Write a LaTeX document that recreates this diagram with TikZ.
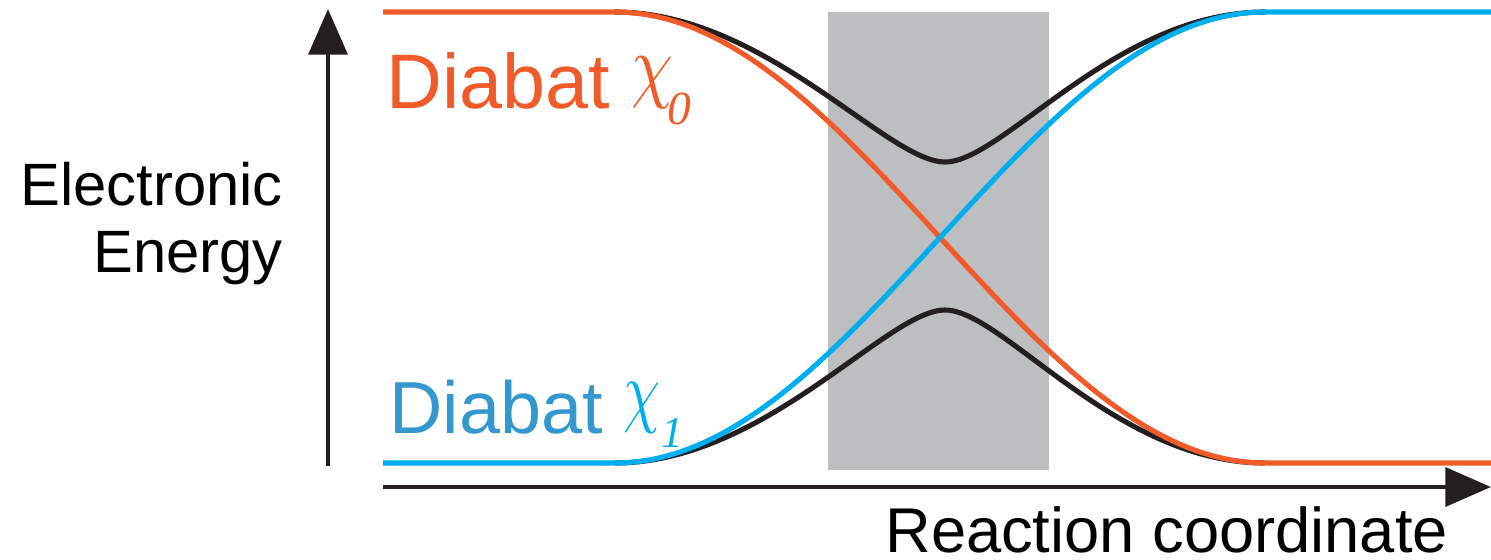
\documentclass[tikz,border=0pt]{standalone}
\usepackage{fontspec}
\setmainfont{Liberation Sans}
\newfontfamily\chifont{Liberation Serif}
\usetikzlibrary{arrows.meta}
\definecolor{diaborange}{RGB}{241,90,41}
\definecolor{diabcyan}{RGB}{0,174,239}
\definecolor{diabblue}{RGB}{52,152,206}
\definecolor{inkblack}{RGB}{35,31,32}
\definecolor{shadegray}{RGB}{188,190,192}
\begin{document}
\begin{tikzpicture}[x=0.02cm, y=-0.02cm,
    curve/.style={line width=2.9pt, line join=round},
    axis/.style={line width=2.8pt, draw=inkblack, -{Triangle[length=26pt,width=22pt]}},
    textlabel/.style={inner sep=0pt, anchor=base west}]
    \useasboundingbox (0,0) rectangle (1491,559);

    % Coupling region
    \fill[shadegray] (828,12) rectangle (1049,470);

    % Adiabats
    \draw[curve, inkblack] (615,12) .. controls (765,12) and (887,162) .. (945,162)
        .. controls (1003,162) and (1115,12) .. (1265,12);
    \draw[curve, inkblack] (615,463) .. controls (765,463) and (887,310) .. (945,310)
        .. controls (1003,310) and (1115,463) .. (1265,463);

    % Diabats
    \draw[curve, diaborange] (383,12) -- plot[domain=615:1265, samples=120] (\x, {12+225.5*(1-cos(0.276923*(\x-615)))}) -- (1491,463);
    \draw[curve, diabcyan] (383,463) -- plot[domain=615:1265, samples=120] (\x, {463-225.5*(1-cos(0.276923*(\x-615)))}) -- (1491,12);

    % Axes
    \coordinate (ylow) at (328,466);
    \coordinate (ytop) at (328,9);
    \coordinate (xleft) at (383,487);
    \coordinate (xright) at (1491,487);
    \draw[axis] (ylow) -- (ytop);
    \draw[axis] (xleft) -- (xright);

    % Labels
    \node[textlabel, text=diaborange, font=\fontsize{44}{50}\selectfont] (diabatzero) at (386,108)
        {Diabat \raisebox{9.1pt}{\scalebox{3.8}[4.7]{\normalsize$\chi$}}\kern-3pt{\chifont\itshape\raisebox{-9.5pt}{\fontsize{27}{30}\selectfont 0}}};
    \node[textlabel, text=diabblue, font=\fontsize{42}{48}\selectfont] (diabatone) at (389,433)
        {Diabat {\color{diabcyan}\raisebox{8.9pt}{\scalebox{3.35}[4.6]{\normalsize$\chi$}}\kern1pt\chifont\itshape\raisebox{-8.5pt}{\fontsize{25}{28}\selectfont 1}}};
    \node[inner sep=0pt, anchor=base east, align=right, font=\fontsize{34}{38}\selectfont] (energylabel) at (283,272)
        {Electronic\\Energy};
    \node[textlabel, font=\fontsize{36}{40}\selectfont] (coordlabel) at (885,552) {Reaction coordinate};
\end{tikzpicture}
\end{document}
